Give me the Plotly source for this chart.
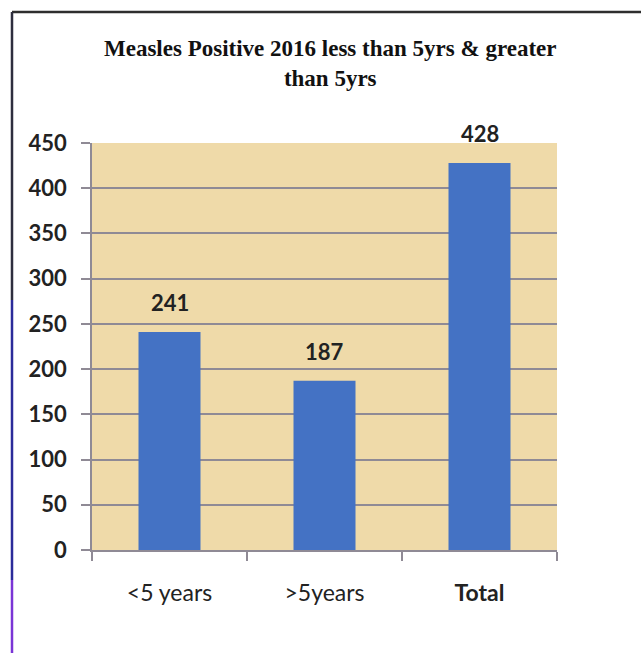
import plotly.graph_objects as go

categories = ["<5 years", ">5years", "Total"]
values = [241, 187, 428]
tick_text = ["<5 years", ">5years", "<b>Total</b>"]
y_ticks = [0, 50, 100, 150, 200, 250, 300, 350, 400, 450]
title_lines = ["Measles Positive 2016 less than 5yrs & greater", "than 5yrs"]

W, H = 641, 653
L, R, T, B = 92, 84, 143, 103
PW, PH = W - L - R, H - T - B
BAR = "#4472C4"
BG = "#EFDAA9"
GRID = "#8F8A95"


def px(x):
    return (x - L) / PW


def py(y):
    return 1 - (y - T) / PH


fig = go.Figure()
fig.add_trace(go.Bar(x=categories, y=values, marker=dict(color=BAR, line=dict(width=0)),
                     showlegend=False, hoverinfo="x+y"))

for c, v in zip(categories, values):
    fig.add_annotation(x=c, y=v, text=str(v), showarrow=False, yanchor="bottom",
                       yshift=14, font=dict(family="Lato", size=22, color="#222222", weight="bold"))

fig.add_annotation(xref="paper", yref="paper", x=px(330), y=py(34), xanchor="center", yanchor="top",
                   text="<br>".join(title_lines), showarrow=False, align="center",
                   font=dict(family="Liberation Serif", size=23, color="#111111", weight="bold"))

fig.update_layout(
    width=W, height=H,
    margin=dict(l=L, r=R, t=T, b=B),
    paper_bgcolor="white", plot_bgcolor=BG,
    bargap=0.6,
    xaxis=dict(tickvals=categories, ticktext=tick_text, tickson="boundaries",
               ticks="outside", ticklen=9, tickcolor=GRID, tickwidth=1.5,
               showline=True, linecolor=GRID, linewidth=1.5, showgrid=False,
               ticklabelstandoff=22,
               tickfont=dict(family="Lato", size=23, color="#222222")),
    yaxis=dict(range=[0, 450], tickvals=y_ticks, showgrid=True, gridcolor=GRID, gridwidth=1.5,
               ticks="outside", ticklen=9, tickcolor=GRID, tickwidth=1.5,
               showline=True, linecolor=GRID, linewidth=1.5, zeroline=False,
               ticklabelstandoff=10,
               tickfont=dict(family="Lato", size=22, color="#222222", weight="bold")),
)

# outer frame (top and left edge of the pasted chart)
fig.add_shape(type="line", xref="paper", yref="paper",
              x0=px(12), x1=px(W + 5), y0=py(12), y1=py(12),
              line=dict(color="#2E2E2E", width=2.5))
fig.add_shape(type="line", xref="paper", yref="paper",
              x0=px(12), x1=px(12), y0=py(12), y1=py(300),
              line=dict(color="#2E2E3E", width=2.5))
fig.add_shape(type="line", xref="paper", yref="paper",
              x0=px(12), x1=px(12), y0=py(300), y1=py(580),
              line=dict(color="#2B2B9A", width=2.5))
fig.add_shape(type="line", xref="paper", yref="paper",
              x0=px(12), x1=px(12), y0=py(580), y1=py(H + 5),
              line=dict(color="#7A35D6", width=2.5))

fig.write_html("out.html")
